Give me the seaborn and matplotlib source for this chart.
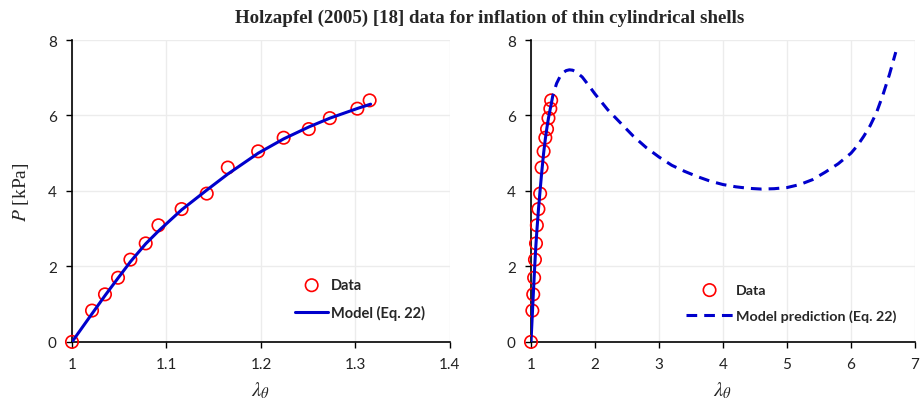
import matplotlib
matplotlib.use("Agg")
import matplotlib.pyplot as plt
import seaborn as sns
import pandas as pd

# ---- data ----
data_lambda = [1.000, 1.0212, 1.0349, 1.0487, 1.0618, 1.078, 1.0915, 1.116, 1.1426,
               1.1649, 1.197, 1.224, 1.2506, 1.2729, 1.302, 1.315]
data_P = [0.00, 0.83, 1.26, 1.70, 2.18, 2.61, 3.09, 3.52, 3.93,
          4.62, 5.05, 5.41, 5.64, 5.93, 6.18, 6.40]

model_lambda = [1.000, 1.021, 1.035, 1.049, 1.062, 1.078, 1.092, 1.116, 1.143,
                1.165, 1.197, 1.224, 1.251, 1.273, 1.3025, 1.316]
model_P = [0.00, 0.74, 1.23, 1.70, 2.13, 2.60, 2.95, 3.50, 4.03,
           4.45, 5.00, 5.38, 5.70, 5.93, 6.19, 6.30]

pred_lambda = [1.316, 1.34, 1.40, 1.45, 1.50, 1.55, 1.60, 1.65, 1.70, 1.80, 1.90, 2.00,
               2.20, 2.40, 2.60, 2.80, 3.00, 3.20, 3.40, 3.60, 3.80, 4.00, 4.20,
               4.40, 4.60, 4.80, 5.00, 5.20, 5.40, 5.60, 5.80, 6.00, 6.10, 6.20,
               6.30, 6.40, 6.50, 6.60, 6.70]
pred_P = [6.30, 6.52, 6.85, 7.02, 7.13, 7.19, 7.21, 7.20, 7.16, 7.02, 6.80, 6.57,
          6.15, 5.80, 5.45, 5.15, 4.90, 4.68, 4.52, 4.38, 4.26, 4.17, 4.11,
          4.07, 4.05, 4.06, 4.09, 4.17, 4.30, 4.50, 4.72, 5.00, 5.20, 5.45,
          5.73, 6.08, 6.55, 7.08, 7.68]

title = "Holzapfel (2005) [18] data for inflation of thin cylindrical shells"
left_xticks = [1, 1.1, 1.2, 1.3, 1.4]
left_xticklabels = ["1", "1.1", "1.2", "1.3", "1.4"]
right_xticks = [1, 2, 3, 4, 5, 6, 7]
yticks = [0, 2, 4, 6, 8]

sns.set_theme(style="white")
plt.rcParams['font.family'] = ['Lato', 'DejaVu Sans']
plt.rcParams['mathtext.fontset'] = 'stix'

BLUE = "#0000CC"
RED = "#FF0000"

fig = plt.figure(figsize=(9.23, 4.02), dpi=100)
ax1 = fig.add_axes([0.078, 0.147, 0.4095, 0.751])
ax2 = fig.add_axes([0.5753, 0.147, 0.416, 0.751])

df_data = pd.DataFrame({"lam": data_lambda, "P": data_P})
df_model = pd.DataFrame({"lam": model_lambda, "P": model_P})
df_pred = pd.DataFrame({"lam": pred_lambda, "P": pred_P})

# Left panel
sns.scatterplot(data=df_data, x="lam", y="P", ax=ax1, marker="o", s=80,
                facecolors="none", edgecolors=RED, linewidth=1.2, label="Data",
                zorder=3, clip_on=False)
sns.lineplot(data=df_model, x="lam", y="P", ax=ax1, color=BLUE, linewidth=2.2,
             sort=False, estimator=None, label="Model (Eq. 22)", zorder=4)

# Right panel
sns.scatterplot(data=df_data, x="lam", y="P", ax=ax2, marker="o", s=80,
                facecolors="none", edgecolors=RED, linewidth=1.2, label="Data",
                zorder=3, clip_on=False)
sns.lineplot(data=df_model, x="lam", y="P", ax=ax2, color=BLUE, linewidth=2.2,
             sort=False, estimator=None, zorder=4, legend=False)
sns.lineplot(data=df_pred, x="lam", y="P", ax=ax2, color=BLUE, linewidth=2.2,
             sort=False, estimator=None, label="Model prediction (Eq. 22)",
             zorder=4, dashes=False)
ax2.lines[-1].set_dashes((3.5, 2.3))

for ax, xl, xt in [(ax1, (1, 1.4), left_xticks), (ax2, (1, 7), right_xticks)]:
    ax.set_xlim(*xl)
    ax.set_ylim(0, 8)
    ax.set_xticks(xt)
    ax.set_yticks(yticks)
    ax.grid(True, color="#ececec", linewidth=1.0)
    ax.set_axisbelow(True)
    for s in ["top", "right"]:
        ax.spines[s].set_visible(False)
    for s in ["left", "bottom"]:
        ax.spines[s].set_color("black")
        ax.spines[s].set_linewidth(1.2)
    ax.tick_params(axis="both", which="major", direction="out", length=4,
                   width=1.0, color="black", labelsize=11, labelcolor="#222222",
                   bottom=True, left=True, pad=7)
    ax.set_xlabel(r"$\lambda_\theta$", fontsize=15, labelpad=6)
    ax.set_ylabel("")

ax1.set_xticklabels(left_xticklabels)
ax1.set_ylabel(r"$P$ [kPa]", fontsize=14, family="Liberation Serif", labelpad=12)

leg1 = ax1.legend(loc="upper left", bbox_to_anchor=(0.555, 0.255), frameon=False,
                  prop={"weight": "bold", "size": 10.5}, handlelength=2.3,
                  handletextpad=0.2, labelspacing=0.9)
leg2 = ax2.legend(loc="upper left", bbox_to_anchor=(0.37, 0.235), frameon=False,
                  prop={"weight": "bold", "size": 10.3}, handlelength=3.3,
                  handletextpad=0.2, labelspacing=0.95)

fig.suptitle(title, x=0.53, y=0.975, fontsize=13.6, fontweight="bold",
             family="Liberation Serif")

fig.savefig("out.png", dpi=100)
